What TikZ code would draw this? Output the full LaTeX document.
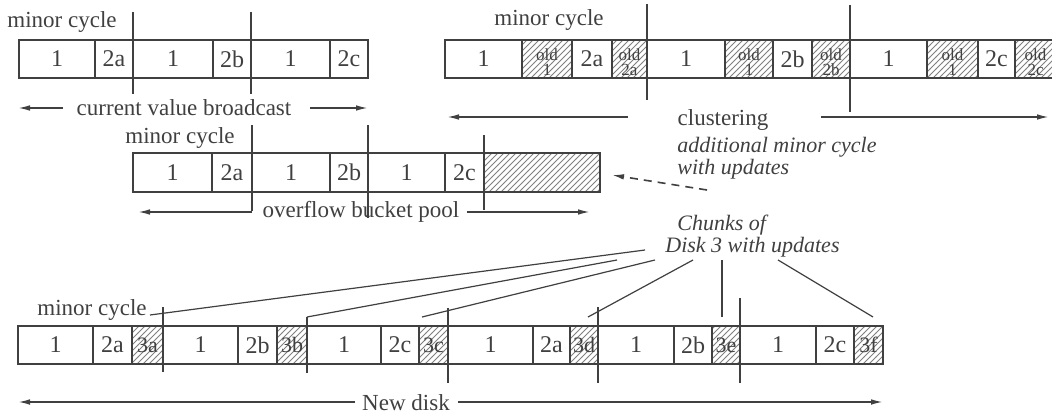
\documentclass[tikz,border=0pt]{standalone}
\usepackage{fontspec}
\setmainfont{Liberation Serif}
\usetikzlibrary{patterns,arrows.meta}
\definecolor{ink}{gray}{0.25}
\definecolor{hatchc}{gray}{0.5}
\tikzset{
 cellline/.style={draw=ink, line width=0.8pt},
 hatched/.style={pattern=north east lines, pattern color=hatchc},
 numtext/.style={text=ink, font=\fontsize{12}{12}\selectfont, inner sep=0pt},
 oldtext/.style={text=ink, font=\fontsize{8.5}{7.8}\selectfont, align=center, inner sep=0pt, yshift=-1.5pt},
 chunktext/.style={text=ink, font=\fontsize{11}{11}\selectfont, inner sep=0pt},
 lbl/.style={text=ink, font=\fontsize{11.5}{13}\selectfont, inner sep=0pt},
 ilabel/.style={text=ink, font=\itshape\fontsize{11}{9.6}\selectfont, align=left, inner sep=0pt, anchor=west},
 divider/.style={draw=ink, line width=0.7pt},
 spanarrow/.style={draw=ink, line width=0.8pt, -{Latex[length=6pt,width=2.8pt]}},
 dasharrow/.style={draw=ink, line width=0.8pt, dash pattern=on 4pt off 3pt, -{Latex[length=6pt,width=2.8pt]}},
 leader/.style={draw=ink, line width=0.6pt},
}
% #1 name, #2 x1, #3 x2, #4 y1, #5 y2, #6 rectangle style, #7 text style, #8 text
\newcommand{\cellbox}[8]{%
  \path[cellline,#6] (#2,#4) rectangle (#3,#5);
  \node[#7] (#1) at ({(#2+#3)/2},{(#4+#5)/2}) {#8};}
\begin{document}
\begin{tikzpicture}[x=0.5pt,y=-0.5pt]
\useasboundingbox (0,0) rectangle (1052,417);
\fill[white] (0,0) rectangle (1052,417);

% ---------- Row A: current value broadcast ----------
\node[lbl] (mcA) at (62,22) {minor cycle};
\cellbox{a1}{19}{95}{40}{78}{}{numtext}{1}
\cellbox{a2}{95}{133}{40}{78}{}{numtext}{2a}
\cellbox{a3}{133}{213}{40}{78}{}{numtext}{1}
\cellbox{a4}{213}{251}{40}{78}{}{numtext}{2b}
\cellbox{a5}{251}{330}{40}{78}{}{numtext}{1}
\cellbox{a6}{330}{368}{40}{78}{}{numtext}{2c}
\coordinate (dA1t) at (133,12); \coordinate (dA1b) at (133,94);
\coordinate (dA2t) at (251,12); \coordinate (dA2b) at (251,94);
\draw[divider] (dA1t) -- (dA1b);
\draw[divider] (dA2t) -- (dA2b);
\node[lbl] (cvb) at (184,108) {current value broadcast};
\coordinate (cvbA) at (63,108); \coordinate (cvbL) at (18,108);
\coordinate (cvbB) at (310,108); \coordinate (cvbR) at (368,108);
\draw[spanarrow] (cvbA) -- (cvbL);
\draw[spanarrow] (cvbB) -- (cvbR);

% ---------- Row B: clustering ----------
\node[lbl] (mcB) at (549,20) {minor cycle};
\cellbox{b1}{445}{522}{40}{78}{}{numtext}{1}
\cellbox{b2}{522}{572}{40}{78}{hatched}{oldtext}{old\\1}
\cellbox{b3}{572}{612}{40}{78}{}{numtext}{2a}
\cellbox{b4}{612}{647}{40}{78}{hatched}{oldtext}{old\\2a}
\cellbox{b5}{647}{725}{40}{78}{}{numtext}{1}
\cellbox{b6}{725}{773}{40}{78}{hatched}{oldtext}{old\\1}
\cellbox{b7}{773}{812}{40}{78}{}{numtext}{2b}
\cellbox{b8}{812}{850}{40}{78}{hatched}{oldtext}{old\\2b}
\cellbox{b9}{850}{927}{40}{78}{}{numtext}{1}
\cellbox{b10}{927}{978}{40}{78}{hatched}{oldtext}{old\\1}
\cellbox{b11}{978}{1015}{40}{78}{}{numtext}{2c}
\cellbox{b12}{1015}{1056}{40}{78}{hatched}{oldtext}{old\\2c}
\coordinate (dB1t) at (647,4); \coordinate (dB1b) at (647,100);
\coordinate (dB2t) at (850,5); \coordinate (dB2b) at (850,112);
\draw[divider] (dB1t) -- (dB1b);
\draw[divider] (dB2t) -- (dB2b);
\node[lbl] (clu) at (723,120) {clustering};
\coordinate (cluA) at (628,117); \coordinate (cluL) at (447,117);
\coordinate (cluB) at (821,117); \coordinate (cluR) at (1049,117);
\draw[spanarrow] (cluA) -- (cluL);
\draw[spanarrow] (cluB) -- (cluR);

% ---------- Row C: overflow bucket pool ----------
\node[lbl] (mcC) at (180,138) {minor cycle};
\cellbox{c1}{133}{212}{153}{192}{}{numtext}{1}
\cellbox{c2}{212}{252}{153}{192}{}{numtext}{2a}
\cellbox{c3}{252}{330}{153}{192}{}{numtext}{1}
\cellbox{c4}{330}{368}{153}{192}{}{numtext}{2b}
\cellbox{c5}{368}{445}{153}{192}{}{numtext}{1}
\cellbox{c6}{445}{484}{153}{192}{}{numtext}{2c}
\cellbox{c7}{484}{600}{153}{192}{hatched}{numtext}{}
\coordinate (dC1t) at (252,125); \coordinate (dC1b) at (252,211);
\coordinate (dC2t) at (368,125); \coordinate (dC2b) at (368,218);
\coordinate (dC3t) at (484,135); \coordinate (dC3b) at (484,210);
\draw[divider] (dC1t) -- (dC1b);
\draw[divider] (dC2t) -- (dC2b);
\draw[divider] (dC3t) -- (dC3b);
\node[lbl] (obp) at (361,212) {overflow bucket pool};
\coordinate (obpA) at (252,212); \coordinate (obpL) at (138,212);
\coordinate (obpB) at (467,212); \coordinate (obpR) at (590,212);
\draw[spanarrow] (obpA) -- (obpL);
\draw[spanarrow] (obpB) -- (obpR);

% additional minor cycle label
\node[ilabel] (amc) at (677,158) {additional minor cycle\\with updates};
\coordinate (amcS) at (707,190); \coordinate (amcT) at (612,175);
\draw[dasharrow] (amcS) -- (amcT);

% ---------- Row D: new disk ----------
\node[lbl] (mcD) at (92,310) {minor cycle};
\cellbox{d1}{18}{93}{326}{364}{}{numtext}{1}
\cellbox{d2}{93}{132}{326}{364}{}{numtext}{2a}
\cellbox{d3}{132}{163}{326}{364}{hatched}{chunktext}{3a}
\cellbox{d4}{163}{238}{326}{364}{}{numtext}{1}
\cellbox{d5}{238}{277}{326}{364}{}{numtext}{2b}
\cellbox{d6}{277}{307}{326}{364}{hatched}{chunktext}{3b}
\cellbox{d7}{307}{381}{326}{364}{}{numtext}{1}
\cellbox{d8}{381}{419}{326}{364}{}{numtext}{2c}
\cellbox{d9}{419}{448}{326}{364}{hatched}{chunktext}{3c}
\cellbox{d10}{448}{533}{326}{364}{}{numtext}{1}
\cellbox{d11}{533}{570}{326}{364}{}{numtext}{2a}
\cellbox{d12}{570}{598}{326}{364}{hatched}{chunktext}{3d}
\cellbox{d13}{598}{674}{326}{364}{}{numtext}{1}
\cellbox{d14}{674}{712}{326}{364}{}{numtext}{2b}
\cellbox{d15}{712}{740}{326}{364}{hatched}{chunktext}{3e}
\cellbox{d16}{740}{816}{326}{364}{}{numtext}{1}
\cellbox{d17}{816}{854}{326}{364}{}{numtext}{2c}
\cellbox{d18}{854}{883}{326}{364}{hatched}{chunktext}{3f}
\coordinate (dD1t) at (163,307); \coordinate (dD1b) at (163,372);
\coordinate (dD2t) at (307,317); \coordinate (dD2b) at (307,373);
\coordinate (dD3t) at (448,308); \coordinate (dD3b) at (448,383);
\coordinate (dD4t) at (598,307); \coordinate (dD4b) at (598,383);
\coordinate (dD5t) at (740,298); \coordinate (dD5b) at (740,383);
\draw[divider] (dD1t) -- (dD1b);
\draw[divider] (dD2t) -- (dD2b);
\draw[divider] (dD3t) -- (dD3b);
\draw[divider] (dD4t) -- (dD4b);
\draw[divider] (dD5t) -- (dD5b);
\node[lbl] (nd) at (406,403) {New disk};
\coordinate (ndA) at (355,402); \coordinate (ndL) at (18,402);
\coordinate (ndB) at (458,402); \coordinate (ndR) at (883,402);
\draw[spanarrow] (ndA) -- (ndL);
\draw[spanarrow] (ndB) -- (ndR);

% Chunks label and leaders
\node[ilabel] (chk) at (665,236) {\hspace*{6pt}Chunks of\\Disk 3 with updates};
\coordinate (l1s) at (645,250); \coordinate (l1e) at (150,315);
\coordinate (l2s) at (617,260); \coordinate (l2e) at (307,317);
\coordinate (l3s) at (655,260); \coordinate (l3e) at (422,317);
\coordinate (l4s) at (693,260); \coordinate (l4e) at (588,317);
\coordinate (l5s) at (722,260); \coordinate (l5e) at (722,317);
\coordinate (l6s) at (778,260); \coordinate (l6e) at (873,317);
\draw[leader] (l1s) -- (l1e);
\draw[leader] (l2s) -- (l2e);
\draw[leader] (l3s) -- (l3e);
\draw[leader] (l4s) -- (l4e);
\draw[leader] (l5s) -- (l5e);
\draw[leader] (l6s) -- (l6e);
\end{tikzpicture}
\end{document}
